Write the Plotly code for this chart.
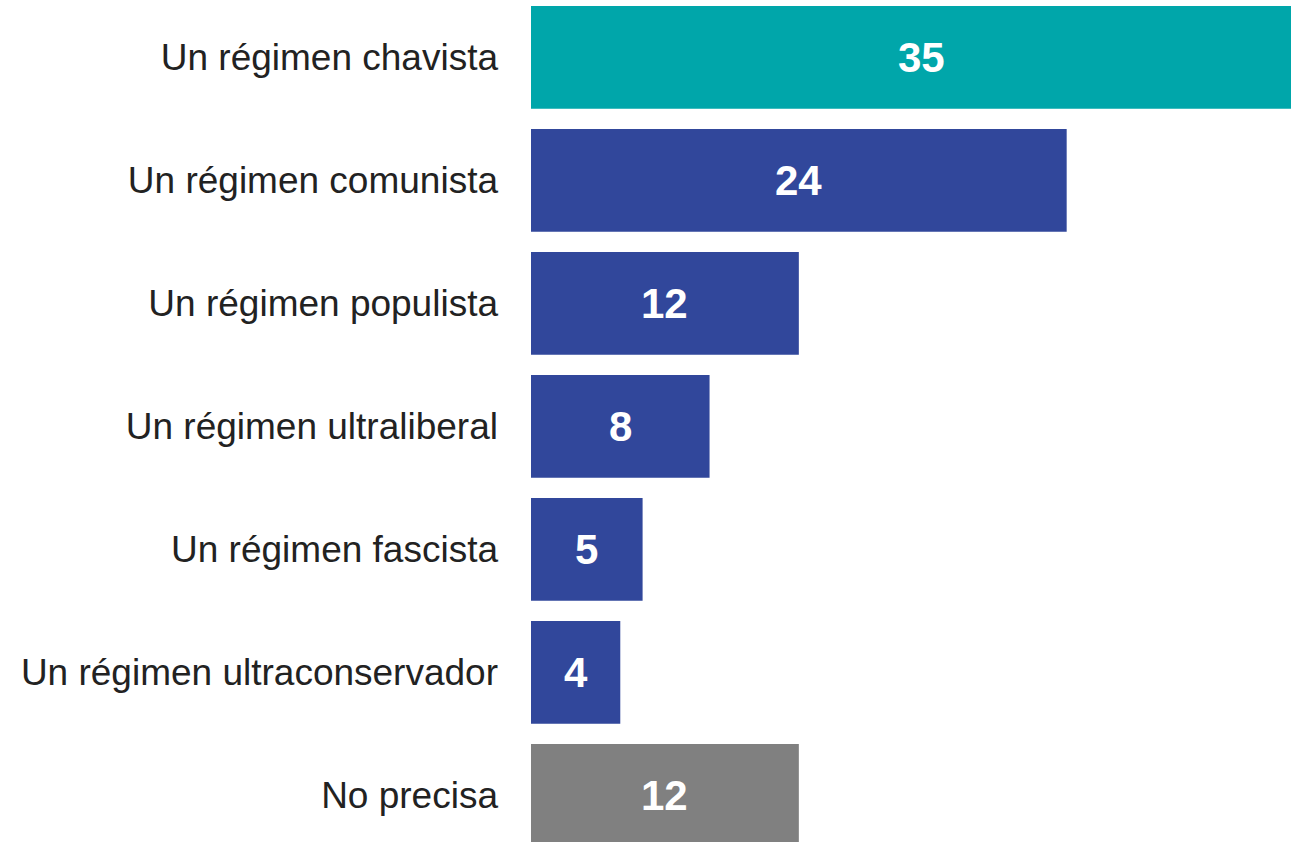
import plotly.graph_objects as go

categories = [
    "Un régimen chavista",
    "Un régimen comunista",
    "Un régimen populista",
    "Un régimen ultraliberal",
    "Un régimen fascista",
    "Un régimen ultraconservador",
    "No precisa",
]
values = [35, 24, 12, 8, 5, 4, 12]
colors = ["#00A6AA", "#31479B", "#31479B", "#31479B", "#31479B", "#31479B", "#808080"]

FONT = "'Liberation Sans', Arial, sans-serif"

fig = go.Figure()
fig.add_trace(go.Bar(
    x=values,
    y=categories,
    orientation="h",
    marker=dict(color=colors, line=dict(width=0)),
    hoverinfo="skip",
))

# value labels centred on the full length of each bar
for cat, v in zip(categories, values):
    fig.add_annotation(
        x=v / 2,
        y=cat,
        text=f"<b>{v}</b>",
        showarrow=False,
        xanchor="center",
        yanchor="middle",
        font=dict(family=FONT, size=42, color="white"),
    )

fig.update_layout(
    width=1291,
    height=842,
    margin=dict(l=531, r=0, t=0, b=0),
    paper_bgcolor="white",
    plot_bgcolor="white",
    showlegend=False,
    bargap=0.165,
    font=dict(family=FONT),
)
fig.update_xaxes(
    range=[0, 34.05],
    visible=False,
    showgrid=False,
    zeroline=False,
)
fig.update_yaxes(
    categoryorder="array",
    categoryarray=categories,
    range=[6.379, -0.466],
    showgrid=False,
    zeroline=False,
    showline=False,
    ticks="",
    ticklabelstandoff=32,
    tickfont=dict(family=FONT, size=37, color="#222222"),
)

fig.write_html("out.html")
